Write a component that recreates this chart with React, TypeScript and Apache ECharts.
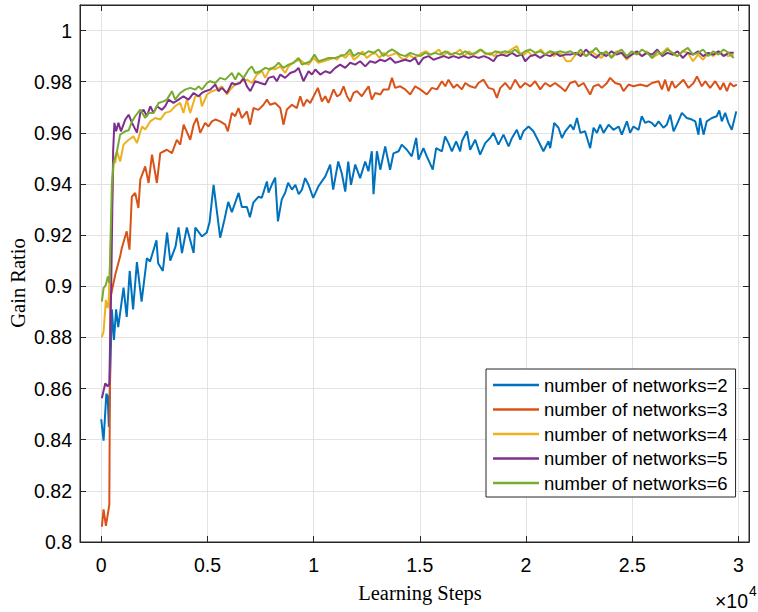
import React, { useEffect, useRef } from 'react';
import * as echarts from 'echarts';

type Pt = [number, number];

const seriesNames = [
  'number of networks=2',
  'number of networks=3',
  'number of networks=4',
  'number of networks=5',
  'number of networks=6',
];
const seriesColors = ['#0072BD', '#D95319', '#EDB120', '#7E2F8E', '#77AC30'];

const net2: Pt[] = [
  [0,0.848],[0.011,0.8396],[0.024,0.858],[0.03,0.857],[0.036,0.845],[0.05,0.891],[0.06,0.879],[0.07,0.891],[0.08,0.884],[0.105,0.8995],[0.12,0.888],[0.134,0.906],[0.15,0.891],[0.168,0.9095],[0.19,0.894],[0.215,0.911],[0.23,0.9097],[0.26,0.918],[0.268,0.909],[0.29,0.906],[0.31,0.921],[0.325,0.91],[0.35,0.9156],[0.364,0.923],[0.38,0.913],[0.403,0.923],[0.435,0.913],[0.443,0.923],[0.474,0.9195],[0.497,0.921],[0.51,0.925],[0.529,0.9397],[0.56,0.919],[0.58,0.926],[0.598,0.933],[0.615,0.929],[0.647,0.9365],[0.662,0.931],[0.686,0.931],[0.7,0.927],[0.716,0.9327],[0.74,0.935],[0.756,0.9346],[0.78,0.941],[0.788,0.9366],[0.803,0.9397],[0.819,0.9425],[0.832,0.9254],[0.85,0.934],[0.866,0.9366],[0.88,0.9405],[0.898,0.9378],[0.914,0.9397],[0.93,0.936],[0.945,0.9378],[0.96,0.9423],[0.976,0.9397],[0.998,0.9346],[1.022,0.939],[1.055,0.943],[1.078,0.9476],[1.092,0.9378],[1.116,0.9488],[1.133,0.944],[1.149,0.937],[1.163,0.9488],[1.176,0.9397],[1.196,0.9476],[1.219,0.9423],[1.243,0.9488],[1.258,0.945],[1.274,0.9528],[1.282,0.936],[1.298,0.9528],[1.314,0.9456],[1.337,0.9547],[1.36,0.9456],[1.376,0.952],[1.4,0.9528],[1.415,0.9554],[1.439,0.9534],[1.462,0.9508],[1.483,0.958],[1.494,0.9495],[1.517,0.954],[1.533,0.9508],[1.561,0.9456],[1.577,0.954],[1.604,0.9528],[1.619,0.9586],[1.635,0.956],[1.651,0.9528],[1.671,0.9567],[1.69,0.9528],[1.698,0.9567],[1.722,0.9606],[1.737,0.9534],[1.761,0.9573],[1.784,0.9515],[1.808,0.956],[1.831,0.958],[1.847,0.96],[1.87,0.9554],[1.894,0.9593],[1.918,0.9547],[1.934,0.958],[1.957,0.9612],[1.973,0.9573],[1.988,0.9606],[2.012,0.9625],[2.035,0.9606],[2.059,0.9567],[2.082,0.9528],[2.106,0.9567],[2.114,0.954],[2.133,0.9639],[2.153,0.962],[2.169,0.958],[2.185,0.9606],[2.21,0.9632],[2.224,0.9612],[2.24,0.9658],[2.256,0.96],[2.278,0.9606],[2.302,0.954],[2.318,0.962],[2.334,0.96],[2.349,0.9632],[2.365,0.96],[2.389,0.9632],[2.412,0.9612],[2.436,0.9625],[2.451,0.9593],[2.475,0.9645],[2.49,0.96],[2.506,0.9625],[2.53,0.9612],[2.545,0.9665],[2.561,0.9639],[2.577,0.9645],[2.592,0.9639],[2.608,0.9625],[2.624,0.9645],[2.647,0.962],[2.663,0.9632],[2.679,0.9671],[2.695,0.9606],[2.71,0.9632],[2.734,0.9678],[2.757,0.9658],[2.781,0.9652],[2.797,0.9645],[2.812,0.9593],[2.82,0.9658],[2.836,0.9593],[2.851,0.9645],[2.875,0.9658],[2.898,0.9665],[2.91,0.9688],[2.922,0.9645],[2.938,0.9678],[2.953,0.9639],[2.969,0.9612],[2.99,0.9684],
];

const net3: Pt[] = [
  [0.003,0.806],[0.011,0.8128],[0.022,0.8063],[0.038,0.8145],[0.043,0.8955],[0.066,0.9045],[0.089,0.9117],[0.097,0.915],[0.12,0.9215],[0.133,0.9143],[0.144,0.935],[0.16,0.9365],[0.175,0.9306],[0.184,0.9417],[0.207,0.9469],[0.223,0.9404],[0.239,0.9515],[0.262,0.9404],[0.278,0.9521],[0.309,0.9534],[0.333,0.9521],[0.356,0.9573],[0.372,0.9554],[0.388,0.9632],[0.419,0.9573],[0.435,0.9632],[0.45,0.9658],[0.466,0.96],[0.489,0.9639],[0.505,0.9625],[0.521,0.9645],[0.537,0.9652],[0.56,0.9645],[0.584,0.9632],[0.596,0.9606],[0.615,0.9678],[0.631,0.9665],[0.646,0.9697],[0.662,0.9658],[0.686,0.9684],[0.701,0.9632],[0.717,0.9697],[0.74,0.969],[0.764,0.971],[0.78,0.973],[0.795,0.971],[0.819,0.9717],[0.843,0.9697],[0.858,0.9632],[0.874,0.9691],[0.898,0.971],[0.921,0.9697],[0.937,0.9743],[0.952,0.9704],[0.968,0.973],[0.984,0.9717],[1.0,0.9743],[1.02,0.9776],[1.039,0.9723],[1.055,0.9743],[1.07,0.9717],[1.094,0.977],[1.11,0.9743],[1.125,0.975],[1.141,0.9782],[1.157,0.9743],[1.172,0.9723],[1.188,0.9756],[1.204,0.9763],[1.227,0.9743],[1.243,0.9763],[1.259,0.9782],[1.274,0.973],[1.29,0.9756],[1.314,0.975],[1.329,0.977],[1.353,0.977],[1.369,0.9815],[1.384,0.9776],[1.408,0.9782],[1.431,0.977],[1.455,0.975],[1.478,0.9782],[1.502,0.977],[1.533,0.975],[1.557,0.9776],[1.581,0.977],[1.604,0.9802],[1.62,0.9782],[1.635,0.9808],[1.659,0.9776],[1.675,0.9789],[1.698,0.977],[1.714,0.9795],[1.737,0.9782],[1.761,0.9776],[1.776,0.9795],[1.8,0.9808],[1.823,0.9776],[1.847,0.977],[1.863,0.9737],[1.879,0.9776],[1.902,0.9795],[1.926,0.977],[1.949,0.9808],[1.973,0.9776],[1.996,0.9795],[2.02,0.9782],[2.043,0.9802],[2.067,0.977],[2.09,0.9795],[2.114,0.9782],[2.137,0.9795],[2.161,0.978],[2.185,0.9763],[2.208,0.9795],[2.232,0.9802],[2.247,0.9782],[2.271,0.9795],[2.302,0.975],[2.318,0.9782],[2.341,0.9789],[2.357,0.9776],[2.381,0.9795],[2.396,0.9815],[2.42,0.9795],[2.444,0.9789],[2.459,0.9763],[2.483,0.9789],[2.506,0.9782],[2.538,0.9789],[2.569,0.9782],[2.593,0.9795],[2.624,0.9802],[2.64,0.977],[2.655,0.9808],[2.671,0.9763],[2.687,0.9802],[2.702,0.9776],[2.726,0.9795],[2.741,0.9808],[2.765,0.9776],[2.789,0.9795],[2.805,0.9821],[2.828,0.9782],[2.844,0.9802],[2.867,0.9776],[2.891,0.9802],[2.915,0.9769],[2.93,0.9795],[2.946,0.9763],[2.961,0.9795],[2.977,0.9782],[2.993,0.9789],
];

const net4Head: Pt[] = [
  [0.003,0.8801],[0.011,0.8823],[0.022,0.8947],[0.03,0.8915],[0.035,0.894],[0.046,0.92],[0.058,0.9495],[0.066,0.9482],[0.074,0.9528],[0.089,0.9488],[0.105,0.9554],[0.129,0.9573],[0.152,0.9586],[0.168,0.956],[0.192,0.9625],[0.207,0.9613],[0.231,0.9645],[0.254,0.9658],[0.278,0.9652],[0.301,0.9678],[0.325,0.9684],[0.348,0.9704],[0.372,0.9717],[0.387,0.9678],[0.403,0.973],[0.419,0.9678],[0.443,0.9743],[0.466,0.9743],[0.474,0.9704],[0.498,0.975],[0.521,0.9763],[0.545,0.9769],[0.568,0.9782],[0.592,0.975],[0.607,0.9769],[0.631,0.9789],[0.662,0.9802],[0.686,0.9808],[0.71,0.9795],[0.733,0.9828],[0.757,0.9841],[0.772,0.9815],[0.796,0.9854],[0.819,0.9848],[0.843,0.986],[0.866,0.9834],[0.882,0.986],[0.913,0.988],[0.937,0.9886],[0.952,0.9874],[0.976,0.9867],[1.0,0.9893],[1.023,0.9874],[1.047,0.988],[1.07,0.9886],[1.094,0.9893],[1.11,0.9886],[1.13,0.9906],[1.15,0.9893],[1.17,0.9913],[1.19,0.9886],[1.21,0.99],[1.23,0.9919],[1.25,0.9893],[1.27,0.9906],[1.29,0.9913],[1.31,0.9893],[1.33,0.9913],[1.35,0.99],[1.37,0.9906],[1.39,0.9913],[1.41,0.9893],[1.43,0.9886],[1.45,0.9906],[1.47,0.9893],[1.49,0.99],[1.51,0.9913],[1.53,0.9919],[1.55,0.9906],[1.57,0.9913],[1.59,0.9926],[1.61,0.99],[1.63,0.9919],[1.65,0.9906],[1.67,0.9913],[1.69,0.9926],[1.71,0.99],[1.73,0.9919],[1.75,0.9906],[1.77,0.9913],[1.79,0.9926],[1.81,0.9906],[1.83,0.9913],[1.85,0.99],[1.87,0.9919],[1.89,0.9906],[1.91,0.9913],[1.93,0.9926],[1.957,0.9939],[1.97,0.9913],[1.99,0.9906],[2.01,0.9919],[2.03,0.99],[2.05,0.9913],[2.07,0.9926],[2.09,0.9906],[2.11,0.9919],[2.13,0.99],[2.15,0.9913],[2.17,0.9906],[2.19,0.988],
];

const net5Head: Pt[] = [
  [0.003,0.8562],[0.019,0.8621],[0.03,0.8608],[0.038,0.862],[0.047,0.9],[0.056,0.9528],[0.062,0.9639],[0.07,0.9606],[0.081,0.9639],[0.093,0.9606],[0.113,0.9652],[0.129,0.9671],[0.145,0.9639],[0.168,0.9601],[0.184,0.9678],[0.199,0.9691],[0.215,0.9665],[0.231,0.9704],[0.246,0.9678],[0.262,0.9704],[0.286,0.969],[0.301,0.9704],[0.317,0.973],[0.34,0.9717],[0.364,0.973],[0.387,0.9743],[0.411,0.973],[0.435,0.9756],[0.458,0.9743],[0.474,0.9756],[0.49,0.9763],[0.513,0.9769],[0.537,0.9789],[0.552,0.9763],[0.568,0.9776],[0.592,0.9756],[0.615,0.9795],[0.631,0.9789],[0.654,0.9795],[0.67,0.9815],[0.686,0.9782],[0.702,0.9763],[0.725,0.9802],[0.749,0.9795],[0.772,0.9789],[0.788,0.9815],[0.811,0.9821],[0.827,0.9802],[0.843,0.9828],[0.866,0.9815],[0.89,0.9834],[0.913,0.9841],[0.929,0.9854],[0.952,0.9802],[0.976,0.9841],[0.992,0.9828],[1.008,0.9848],[1.031,0.9828],[1.055,0.9841],[1.078,0.9834],[1.102,0.9854],[1.125,0.9867],[1.149,0.9854],[1.172,0.9874],[1.196,0.9867],[1.219,0.988],[1.243,0.986],[1.266,0.988],[1.29,0.9874],[1.314,0.9886],[1.337,0.988],[1.361,0.9893],[1.384,0.9874],[1.408,0.988],[1.431,0.9886],[1.455,0.988],[1.478,0.9893],[1.494,0.9867],[1.517,0.9893],[1.541,0.99],[1.565,0.9886],[1.588,0.9893],[1.612,0.99],[1.635,0.9893],[1.659,0.99],[1.682,0.9893],[1.706,0.99],[1.729,0.9893],[1.753,0.99],[1.776,0.9893],[1.8,0.99],[1.823,0.9893],[1.847,0.988],[1.863,0.99],[1.887,0.9906],[1.91,0.99],[1.934,0.9913],[1.957,0.99],[1.981,0.9906],[1.996,0.988],[2.02,0.99],[2.043,0.9906],[2.067,0.9893],[2.09,0.9906],[2.114,0.99],[2.137,0.9913],[2.161,0.99],[2.185,0.9906],
];

const net6Head: Pt[] = [
  [0.003,0.894],[0.011,0.8993],[0.022,0.9006],[0.031,0.9038],[0.039,0.9013],[0.05,0.94],[0.058,0.9482],[0.074,0.9528],[0.089,0.9593],[0.113,0.9606],[0.129,0.961],[0.145,0.9645],[0.16,0.9665],[0.184,0.9691],[0.207,0.9658],[0.223,0.9678],[0.246,0.9678],[0.27,0.9717],[0.293,0.9723],[0.309,0.973],[0.333,0.9763],[0.348,0.973],[0.372,0.9756],[0.395,0.9769],[0.419,0.9776],[0.443,0.9769],[0.458,0.9782],[0.474,0.9769],[0.498,0.9795],[0.513,0.9802],[0.537,0.9795],[0.56,0.9815],[0.584,0.9808],[0.599,0.9821],[0.615,0.9834],[0.631,0.9808],[0.646,0.9834],[0.67,0.9815],[0.694,0.9848],[0.709,0.986],[0.725,0.9834],[0.749,0.9841],[0.772,0.9854],[0.796,0.9848],[0.819,0.986],[0.835,0.9874],[0.858,0.9854],[0.882,0.9867],[0.906,0.9874],[0.929,0.9893],[0.945,0.9867],[0.968,0.9874],[0.984,0.988],[1.004,0.9906],[1.023,0.988],[1.047,0.9886],[1.07,0.9893],[1.102,0.9893],[1.125,0.99],[1.149,0.9906],[1.172,0.9926],[1.188,0.99],[1.211,0.9913],[1.235,0.9906],[1.259,0.9919],[1.282,0.9913],[1.306,0.9926],[1.329,0.99],[1.353,0.9919],[1.369,0.9926],[1.384,0.9919],[1.408,0.9906],[1.431,0.99],[1.455,0.9913],[1.478,0.9906],[1.502,0.99],[1.525,0.9913],[1.549,0.9906],[1.572,0.9913],[1.596,0.9906],[1.62,0.9919],[1.643,0.9906],[1.667,0.9913],[1.69,0.9906],[1.714,0.9919],[1.737,0.9906],[1.761,0.9913],[1.784,0.9926],[1.808,0.9913],[1.831,0.9906],[1.855,0.9919],[1.879,0.9913],[1.902,0.9919],[1.926,0.9913],[1.949,0.9926],[1.973,0.9906],[1.996,0.9919],[2.02,0.9926],[2.043,0.9913],[2.067,0.9919],[2.09,0.9906],[2.114,0.9919],[2.137,0.9913],[2.161,0.9919],[2.185,0.9913],
];

// late part of the three upper curves, read on a common step grid (x 10^4 steps)
const tailSteps = [2.21,2.234,2.258,2.282,2.306,2.33,2.354,2.378,2.402,2.426,2.45,2.474,2.498,2.522,2.546,2.57,2.594,2.618,2.642,2.666,2.69,2.714,2.738,2.762,2.786,2.81,2.834,2.858,2.882,2.906,2.93,2.954,2.978];
const net4Tail = [0.988,0.9906,0.9913,0.99,0.9919,0.9906,0.9893,0.9913,0.99,0.9919,0.9913,0.9886,0.9906,0.9913,0.99,0.9919,0.9893,0.9906,0.9913,0.9932,0.9906,0.99,0.9919,0.9913,0.988,0.9906,0.9886,0.9913,0.99,0.9919,0.9906,0.99,0.9906];
const net5Tail = [0.9906,0.9913,0.99,0.9926,0.9906,0.9893,0.9913,0.99,0.9919,0.9906,0.9913,0.9893,0.9906,0.9919,0.99,0.9913,0.9906,0.9926,0.99,0.9913,0.9906,0.9919,0.9893,0.9913,0.9906,0.9919,0.99,0.9913,0.9906,0.9919,0.99,0.9913,0.9913];
const net6Tail = [0.9919,0.9906,0.9926,0.99,0.9913,0.9932,0.9906,0.9919,0.9893,0.9913,0.9926,0.99,0.9919,0.9906,0.9926,0.9913,0.9893,0.9919,0.9906,0.9926,0.9913,0.99,0.9919,0.9932,0.9906,0.9913,0.9926,0.99,0.9919,0.9906,0.9926,0.9913,0.9893];

const withTail = (head: Pt[], tail: number[]): Pt[] =>
  head.concat(tail.map((v, i) => [tailSteps[i], v] as Pt));

const X_MIN = -0.1;
const X_MAX = 3.05;
const Y_MIN = 0.8;
const Y_MAX = 1.01;
const Y_STEP = 0.02;

const SANS = '"Liberation Sans", Arial, Helvetica, sans-serif';
const SERIF = '"Liberation Serif", "Times New Roman", serif';
const INK = '#262626';
const GRID = '#e3e3e3';

export default function App() {
  const ref = useRef<HTMLDivElement>(null);

  useEffect(() => {
    if (!ref.current) return;
    const chart = echarts.init(ref.current, undefined, { renderer: 'svg' });
    const allData: Pt[][] = [
      net2,
      net3,
      withTail(net4Head, net4Tail),
      withTail(net5Head, net5Tail),
      withTail(net6Head, net6Tail),
    ];

    const fmtX = (v: number) => {
      const k = v / 0.5;
      if (Math.abs(k - Math.round(k)) > 1e-6 || v < -1e-6 || v > 3.0001) return '';
      return String(parseFloat(v.toFixed(1)));
    };
    const fmtY = (v: number) => (v > 1.0001 ? '' : String(parseFloat(v.toFixed(2))));

    const xBase = {
      type: 'value',
      min: X_MIN,
      max: X_MAX,
      splitNumber: 6,
      minInterval: 0.5,
      maxInterval: 0.5,
    };
    const yBase = {
      type: 'value',
      min: Y_MIN,
      max: Y_MAX,
      interval: Y_STEP,
    };

    chart.setOption({
      animation: false,
      backgroundColor: '#ffffff',
      grid: {
        left: 80,
        top: 5,
        right: 9,
        bottom: 70,
        show: true,
        borderColor: INK,
        borderWidth: 1,
        backgroundColor: 'transparent',
      },
      xAxis: [
        {
          ...xBase,
          position: 'bottom',
          axisLine: { show: true, onZero: false, lineStyle: { color: INK, width: 1 } },
          axisTick: { show: true, inside: true, length: 6, lineStyle: { color: INK, width: 1 } },
          axisLabel: { color: '#000', fontSize: 19.5, fontFamily: SANS, margin: 13, formatter: fmtX },
          splitLine: { show: true, lineStyle: { color: GRID, width: 1 } },
        },
        {
          ...xBase,
          position: 'top',
          axisLine: { show: true, onZero: false, lineStyle: { color: INK, width: 1 } },
          axisTick: { show: true, inside: true, length: 6, lineStyle: { color: INK, width: 1 } },
          axisLabel: { show: false },
          splitLine: { show: false },
        },
      ],
      yAxis: [
        {
          ...yBase,
          position: 'left',
          axisLine: { show: true, onZero: false, lineStyle: { color: INK, width: 1 } },
          axisTick: { show: true, inside: true, length: 6, lineStyle: { color: INK, width: 1 } },
          axisLabel: { color: '#000', fontSize: 19.5, fontFamily: SANS, margin: 8, formatter: fmtY },
          splitLine: { show: true, lineStyle: { color: GRID, width: 1 } },
        },
        {
          ...yBase,
          position: 'right',
          axisLine: { show: true, onZero: false, lineStyle: { color: INK, width: 1 } },
          axisTick: { show: true, inside: true, length: 6, lineStyle: { color: INK, width: 1 } },
          axisLabel: { show: false },
          splitLine: { show: false },
        },
      ],
      legend: {
        orient: 'vertical',
        left: 486,
        top: 369,
        data: seriesNames.map((n) => ({ name: n, icon: 'rect' })),
        itemWidth: 46,
        itemHeight: 2.5,
        itemGap: 4.5,
        padding: [6, 8, 4, 7],
        backgroundColor: '#ffffff',
        borderColor: INK,
        borderWidth: 1,
        borderRadius: 0,
        selectedMode: false,
        textStyle: { fontSize: 18.5, fontFamily: SANS, color: '#000', lineHeight: 20 },
      },
      series: allData.map((d, i) => ({
        name: seriesNames[i],
        type: 'line',
        xAxisIndex: 0,
        yAxisIndex: 0,
        data: d,
        symbol: 'none',
        showSymbol: false,
        color: seriesColors[i],
        itemStyle: { color: seriesColors[i] },
        lineStyle: { color: seriesColors[i], width: 2 },
        z: 2 + i,
      })),
      graphic: [
        {
          type: 'text',
          x: 18,
          y: 283,
          rotation: Math.PI / 2,
          style: {
            text: 'Gain Ratio',
            fontSize: 20.5,
            fontFamily: SERIF,
            fill: '#000',
            align: 'center',
            verticalAlign: 'middle',
          },
        },
        {
          type: 'text',
          x: 420,
          y: 593,
          style: {
            text: 'Learning Steps',
            fontSize: 20.5,
            fontFamily: SERIF,
            fill: '#000',
            align: 'center',
            verticalAlign: 'middle',
          },
        },
        {
          type: 'text',
          x: 748,
          y: 601,
          style: {
            text: '\u00d710',
            fontSize: 19.5,
            fontFamily: SANS,
            fill: '#000',
            align: 'right',
            verticalAlign: 'middle',
          },
        },
        {
          type: 'text',
          x: 749,
          y: 591,
          style: {
            text: '4',
            fontSize: 14,
            fontFamily: SANS,
            fill: '#000',
            align: 'left',
            verticalAlign: 'middle',
          },
        },
      ],
    });

    return () => chart.dispose();
  }, []);

  return (
    <div
      ref={ref}
      style={{ position: 'fixed', left: 0, top: 0, width: 758, height: 612, background: '#fff' }}
    />
  );
}
